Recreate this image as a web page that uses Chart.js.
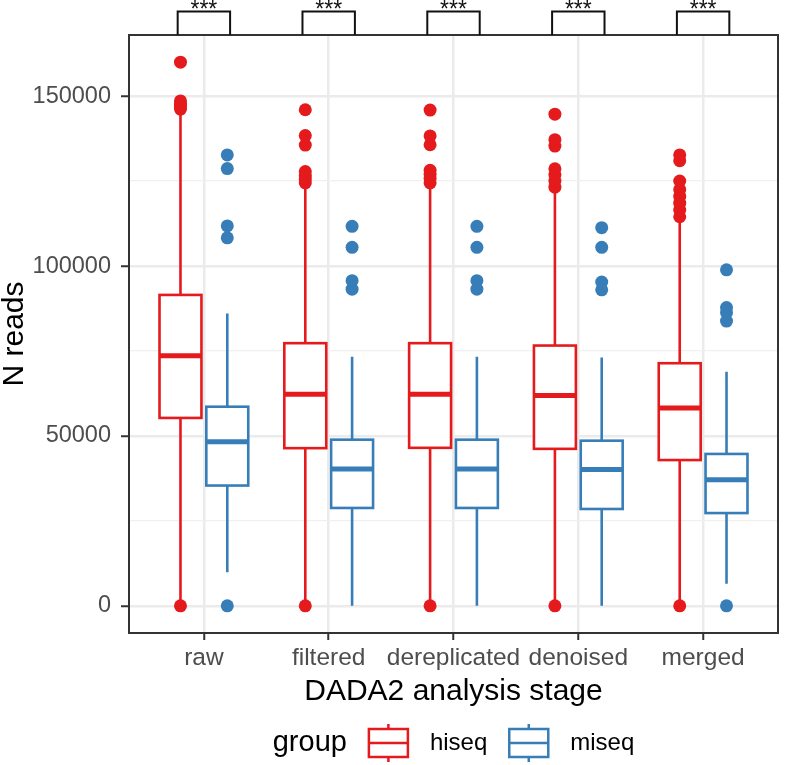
<!DOCTYPE html>
<html>
<head>
<meta charset="utf-8">
<script src="https://cdn.jsdelivr.net/npm/chart.js@4"></script>
<style>
  body { margin: 0; background: #fff; }
  canvas { display: block; }
</style>
</head>
<body>
<canvas id="readsChart" width="787" height="765"></canvas>
<script>
// stages on the x axis
const stages = ["raw", "filtered", "dereplicated", "denoised", "merged"];
const significance = ["***", "***", "***", "***", "***"];
const groups = ["hiseq", "miseq"];

// hiseq box stats
const hiseqLow = [0, 0, 0, 0, 0];
const hiseqQ1 = [55300, 46400, 46500, 46200, 42900];
const hiseqMedian = [73600, 62300, 62300, 61900, 58200];
const hiseqQ3 = [91500, 77300, 77300, 76600, 71400];
const hiseqHigh = [145000, 123500, 123500, 122000, 112800];
const hiseqOutliers = [
  [0, 146200, 147000, 147800, 148600, 160000],
  [0, 124500, 125500, 126500, 127800, 135600, 138400, 146000],
  [0, 124500, 125800, 127000, 128200, 135700, 138300, 145900],
  [0, 123200, 125000, 126800, 128600, 135300, 137200, 144700],
  [0, 114500, 116500, 118500, 120500, 122500, 125000, 131000, 132700]
];

// miseq box stats
const miseqLow = [9900, 0, 0, 0, 6500];
const miseqQ1 = [35400, 28800, 28800, 28500, 27300];
const miseqMedian = [48300, 40300, 40300, 40100, 37100];
const miseqQ3 = [58600, 48900, 48900, 48600, 44700];
const miseqHigh = [86000, 73300, 73300, 73100, 68900];
const miseqOutliers = [
  [0, 108300, 111800, 128700, 132700],
  [93200, 95700, 105500, 111700],
  [93200, 95700, 105500, 111700],
  [93000, 95300, 105500, 111300],
  [0, 83800, 86300, 87800, 98900]
];

const yTicks = [0, 25000, 50000, 75000, 100000, 125000, 150000];

const RED = "#E41A1C";
const BLUE = "#377EB8";
const FONT = "'Liberation Sans', Arial, sans-serif";
const DODGE = 0.1875;
const HALF_BOX = 0.168;

const boxSets = [
  { color: RED, off: -DODGE, low: hiseqLow, q1: hiseqQ1, med: hiseqMedian, q3: hiseqQ3, high: hiseqHigh },
  { color: BLUE, off: DODGE, low: miseqLow, q1: miseqQ1, med: miseqMedian, q3: miseqQ3, high: miseqHigh }
];

function outlierPoints(list, off) {
  const pts = [];
  list.forEach((vals, i) => vals.forEach(v => pts.push({ x: i + 1 + off, y: v })));
  return pts;
}

// boxes + whiskers, drawn under the outlier points
const boxPlugin = {
  id: "boxes",
  beforeDatasetsDraw(chart) {
    const { ctx, scales: { x, y } } = chart;
    ctx.save();
    boxSets.forEach(set => {
      stages.forEach((s, i) => {
        const cx = x.getPixelForValue(i + 1 + set.off);
        const left = x.getPixelForValue(i + 1 + set.off - HALF_BOX);
        const right = x.getPixelForValue(i + 1 + set.off + HALF_BOX);
        const yq1 = y.getPixelForValue(set.q1[i]);
        const yq3 = y.getPixelForValue(set.q3[i]);
        ctx.strokeStyle = set.color;
        ctx.lineWidth = 2.6;
        ctx.beginPath();
        ctx.moveTo(cx, y.getPixelForValue(set.low[i]));
        ctx.lineTo(cx, yq1);
        ctx.moveTo(cx, yq3);
        ctx.lineTo(cx, y.getPixelForValue(set.high[i]));
        ctx.stroke();
        ctx.fillStyle = "#fff";
        ctx.fillRect(left, yq3, right - left, yq1 - yq3);
        ctx.strokeRect(left, yq3, right - left, yq1 - yq3);
        ctx.lineWidth = 5;
        ctx.beginPath();
        const ym = y.getPixelForValue(set.med[i]);
        ctx.moveTo(left, ym);
        ctx.lineTo(right, ym);
        ctx.stroke();
      });
    });
    ctx.restore();
  },
  afterDatasetsDraw(chart) {
    const { ctx, chartArea: a } = chart;
    ctx.save();
    ctx.strokeStyle = "#333333";
    ctx.lineWidth = 2;
    ctx.strokeRect(a.left, a.top, a.right - a.left, a.bottom - a.top);
    ctx.restore();
  }
};

// significance brackets above the panel and the legend below
const extrasPlugin = {
  id: "extras",
  afterDraw(chart) {
    const { ctx, chartArea: a, scales: { x } } = chart;
    ctx.save();
    ctx.strokeStyle = "#111";
    ctx.lineWidth = 2;
    ctx.fillStyle = "#111";
    ctx.font = "23px " + FONT;
    ctx.textAlign = "center";
    ctx.textBaseline = "alphabetic";
    significance.forEach((label, i) => {
      const x1 = x.getPixelForValue(i + 1 - 0.21);
      const x2 = x.getPixelForValue(i + 1 + 0.21);
      const yTop = 11.5;
      ctx.beginPath();
      ctx.moveTo(x1, a.top);
      ctx.lineTo(x1, yTop);
      ctx.lineTo(x2, yTop);
      ctx.lineTo(x2, a.top);
      ctx.stroke();
      ctx.fillText(label, (x1 + x2) / 2, 17);
    });

    // legend
    const gap = 22, keyW = 39;
    const yc = 743;
    ctx.textBaseline = "middle";
    ctx.textAlign = "left";
    ctx.font = "29px " + FONT;
    const titleW = ctx.measureText("group").width;
    ctx.font = "24px " + FONT;
    const labelW = groups.map(g => ctx.measureText(g).width);
    const total = titleW + groups.length * (gap + keyW + gap) + labelW.reduce((p, c) => p + c, 0);
    let cursor = (a.left + a.right) / 2 - total / 2;
    ctx.fillStyle = "#000";
    ctx.font = "29px " + FONT;
    ctx.fillText("group", cursor, yc);
    cursor += titleW + gap;
    groups.forEach((g, k) => {
      const col = k === 0 ? RED : BLUE;
      ctx.strokeStyle = col;
      ctx.lineWidth = 2.5;
      ctx.beginPath();
      ctx.moveTo(cursor + keyW / 2, yc - 19);
      ctx.lineTo(cursor + keyW / 2, yc - 14);
      ctx.moveTo(cursor + keyW / 2, yc + 14);
      ctx.lineTo(cursor + keyW / 2, yc + 19);
      ctx.moveTo(cursor, yc);
      ctx.lineTo(cursor + keyW, yc);
      ctx.stroke();
      ctx.strokeRect(cursor, yc - 14, keyW, 28);
      cursor += keyW + gap;
      ctx.fillStyle = "#000";
      ctx.font = "24px " + FONT;
      ctx.fillText(g, cursor, yc);
      cursor += labelW[k] + gap;
    });
    ctx.restore();
  }
};

new Chart(document.getElementById("readsChart"), {
  type: "scatter",
  data: {
    datasets: [
      {
        label: "hiseq",
        data: outlierPoints(hiseqOutliers, -DODGE),
        backgroundColor: RED,
        borderWidth: 0,
        pointRadius: 6.5,
        pointHoverRadius: 6.5
      },
      {
        label: "miseq",
        data: outlierPoints(miseqOutliers, DODGE),
        backgroundColor: BLUE,
        borderWidth: 0,
        pointRadius: 6.5,
        pointHoverRadius: 6.5
      }
    ]
  },
  options: {
    responsive: false,
    animation: false,
    devicePixelRatio: 1,
    layout: { padding: { top: 35, right: 9, left: 0, bottom: 58 } },
    plugins: { legend: { display: false }, tooltip: { enabled: false } },
    scales: {
      x: {
        type: "linear",
        min: 0.4,
        max: 5.6,
        afterBuildTicks: scale => { scale.ticks = stages.map((s, i) => ({ value: i + 1 })); },
        afterFit: scale => { scale.height = 74; },
        border: { display: false },
        grid: { color: "#EBEBEB", lineWidth: 2.5, tickColor: "#333333", tickWidth: 2, tickLength: 7 },
        ticks: {
          autoSkip: false,
          maxRotation: 0,
          padding: 4,
          color: "#4D4D4D",
          font: { family: FONT, size: 24.5 },
          callback: v => stages[v - 1]
        },
        title: {
          display: true,
          text: "DADA2 analysis stage",
          color: "#000",
          font: { family: FONT, size: 30, lineHeight: 1 },
          padding: { top: 0, bottom: 0 }
        }
      },
      y: {
        min: -8000,
        max: 168000,
        afterBuildTicks: scale => { scale.ticks = yTicks.map(v => ({ value: v })); },
        afterFit: scale => { scale.width = 129; },
        border: { display: false },
        grid: {
          color: ctx => (ctx.tick && ctx.tick.value % 50000 === 0 ? "#EBEBEB" : "#F0F0F0"),
          lineWidth: ctx => (ctx.tick && ctx.tick.value % 50000 === 0 ? 2.5 : 1.3),
          tickColor: ctx => (ctx.tick && ctx.tick.value % 50000 === 0 ? "#333333" : "rgba(0,0,0,0)"),
          tickWidth: 2,
          tickLength: 8
        },
        ticks: {
          padding: 10,
          color: "#4D4D4D",
          font: { family: FONT, size: 23.5 },
          callback: v => (v % 50000 === 0 ? String(v) : "")
        },
        title: {
          display: true,
          text: "N reads",
          color: "#000",
          font: { family: FONT, size: 30, lineHeight: 1 },
          padding: { top: 0, bottom: 0 }
        }
      }
    }
  },
  plugins: [boxPlugin, extrasPlugin]
});
</script>
</body>
</html>
